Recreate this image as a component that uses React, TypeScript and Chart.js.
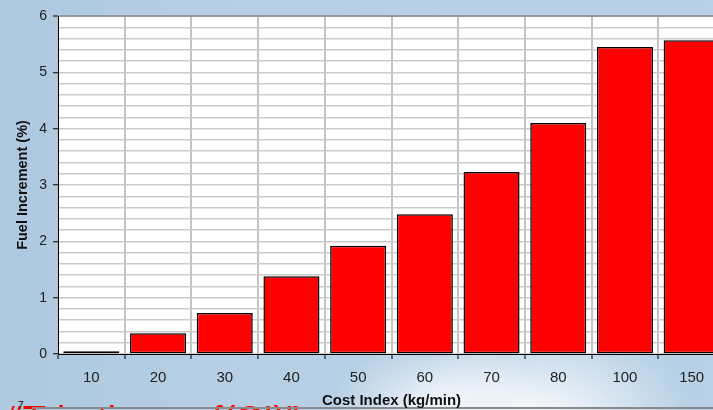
import React, { useEffect, useRef } from "react";
import { Chart, registerables } from "chart.js";

Chart.register(...registerables);

const categories = ["10", "20", "30", "40", "50", "60", "70", "80", "100", "150"];
const fuelIncrement = [0.05, 0.37, 0.73, 1.38, 1.92, 2.48, 3.23, 4.1, 5.45, 5.57];
const yTickLabels = ["0", "1", "2", "3", "4", "5", "6"];
const xTitle = "Cost Index (kg/min)";
const yTitle = "Fuel Increment (%)";
const slideTitle = "\u201CTrip time = f(CI)\u201D";

const FONT = "Arial, 'Liberation Sans', sans-serif";

const plotBg = {
  id: "plotBg",
  beforeDraw(chart: any) {
    const { ctx, chartArea } = chart;
    ctx.save();
    ctx.fillStyle = "#ffffff";
    ctx.fillRect(chartArea.left, chartArea.top, chartArea.right - chartArea.left, chartArea.bottom - chartArea.top);
    ctx.restore();
  },
};

export default function App() {
  const ref = useRef<HTMLCanvasElement | null>(null);

  useEffect(() => {
    if (!ref.current) return;
    const chart = new Chart(ref.current, {
      type: "bar",
      data: {
        labels: categories,
        datasets: [
          {
            data: fuelIncrement,
            backgroundColor: "#ff0000",
            borderColor: "#000000",
            borderWidth: 1.5,
            borderSkipped: false,
            barPercentage: 0.84,
            categoryPercentage: 1,
          },
        ],
      },
      options: {
        responsive: false,
        animation: false,
        layout: { padding: { top: 16, right: 5, left: 0, bottom: 0 } },
        plugins: { legend: { display: false }, tooltip: { enabled: false } },
        scales: {
          x: {
            offset: true,
            grid: {
              offset: true,
              color: "#c4c4c4",
              lineWidth: 2,
              tickLength: 5,
              tickColor: "#000000",
              tickWidth: 1,
            },
            border: { color: "#000000", width: 1 },
            ticks: {
              color: "#222222",
              font: { family: FONT, size: 15 },
              padding: 10,
              maxRotation: 0,
            },
            title: {
              display: true,
              text: xTitle,
              color: "#111111",
              font: { family: FONT, size: 15, weight: "bold" },
              padding: { top: 0, bottom: 0 },
            },
            afterFit(scale: any) {
              scale.height = 56;
            },
          },
          y: {
            min: 0,
            max: 6,
            ticks: {
              stepSize: 0.2,
              autoSkip: false,
              color: "#222222",
              font: { family: FONT, size: 14 },
              padding: 6,
              callback: (v: any) => {
                const n = Number(v);
                const r = Math.round(n);
                return Math.abs(n - r) < 1e-6 ? yTickLabels[r] : "";
              },
            },
            grid: {
              color: (c: any) => (Math.abs(c.tick?.value - 6) < 1e-6 ? "#999999" : "#cbcbcb"),
              lineWidth: (c: any) => (Math.abs(c.tick?.value - 6) < 1e-6 ? 2 : 1.5),
              tickLength: 5,
              tickColor: (c: any) => {
                const n = c.tick?.value ?? 0;
                return Math.abs(n - Math.round(n)) < 1e-6 ? "#000000" : "rgba(0,0,0,0)";
              },
              tickWidth: 1,
            },
            border: { color: "#000000", width: 1 },
            title: {
              display: true,
              text: yTitle,
              color: "#111111",
              font: { family: FONT, size: 14.5, weight: "bold" },
              padding: { top: 14, bottom: 0 },
            },
            afterFit(scale: any) {
              scale.width = 58;
            },
          },
        },
      },
      plugins: [plotBg],
    });
    return () => chart.destroy();
  }, []);

  return (
    <div
      style={{
        position: "fixed",
        left: 0,
        top: 0,
        width: 713,
        height: 410,
        overflow: "hidden",
        background:
          "radial-gradient(ellipse 150px 100px at 540px 425px, rgba(255,255,255,0.97), rgba(255,255,255,0) 100%), radial-gradient(ellipse 110px 70px at 440px 410px, rgba(248,250,253,0.9), rgba(255,255,255,0) 100%), linear-gradient(90deg, #adc8df 0%, #b6cfe5 30%, #b9d1e6 100%)",
      }}
    >
      <div
        style={{
          position: "absolute",
          left: 10,
          top: 401,
          fontFamily: FONT,
          fontSize: 38,
          lineHeight: "38px",
          color: "#ff0000",
          whiteSpace: "nowrap",
        }}
      >
        {slideTitle}
      </div>
      <div
        style={{
          position: "absolute",
          left: 18,
          top: 400,
          fontFamily: FONT,
          fontSize: 10,
          color: "#000000",
        }}
      >
        7
      </div>
      <div
        style={{
          position: "absolute",
          left: 32,
          top: 407,
          width: 700,
          height: 2,
          background: "#8a8a8a",
        }}
      />
      <canvas
        ref={ref}
        width={730}
        height={410}
        style={{ position: "absolute", left: 0, top: 0, width: 730, height: 410 }}
      />
    </div>
  );
}
